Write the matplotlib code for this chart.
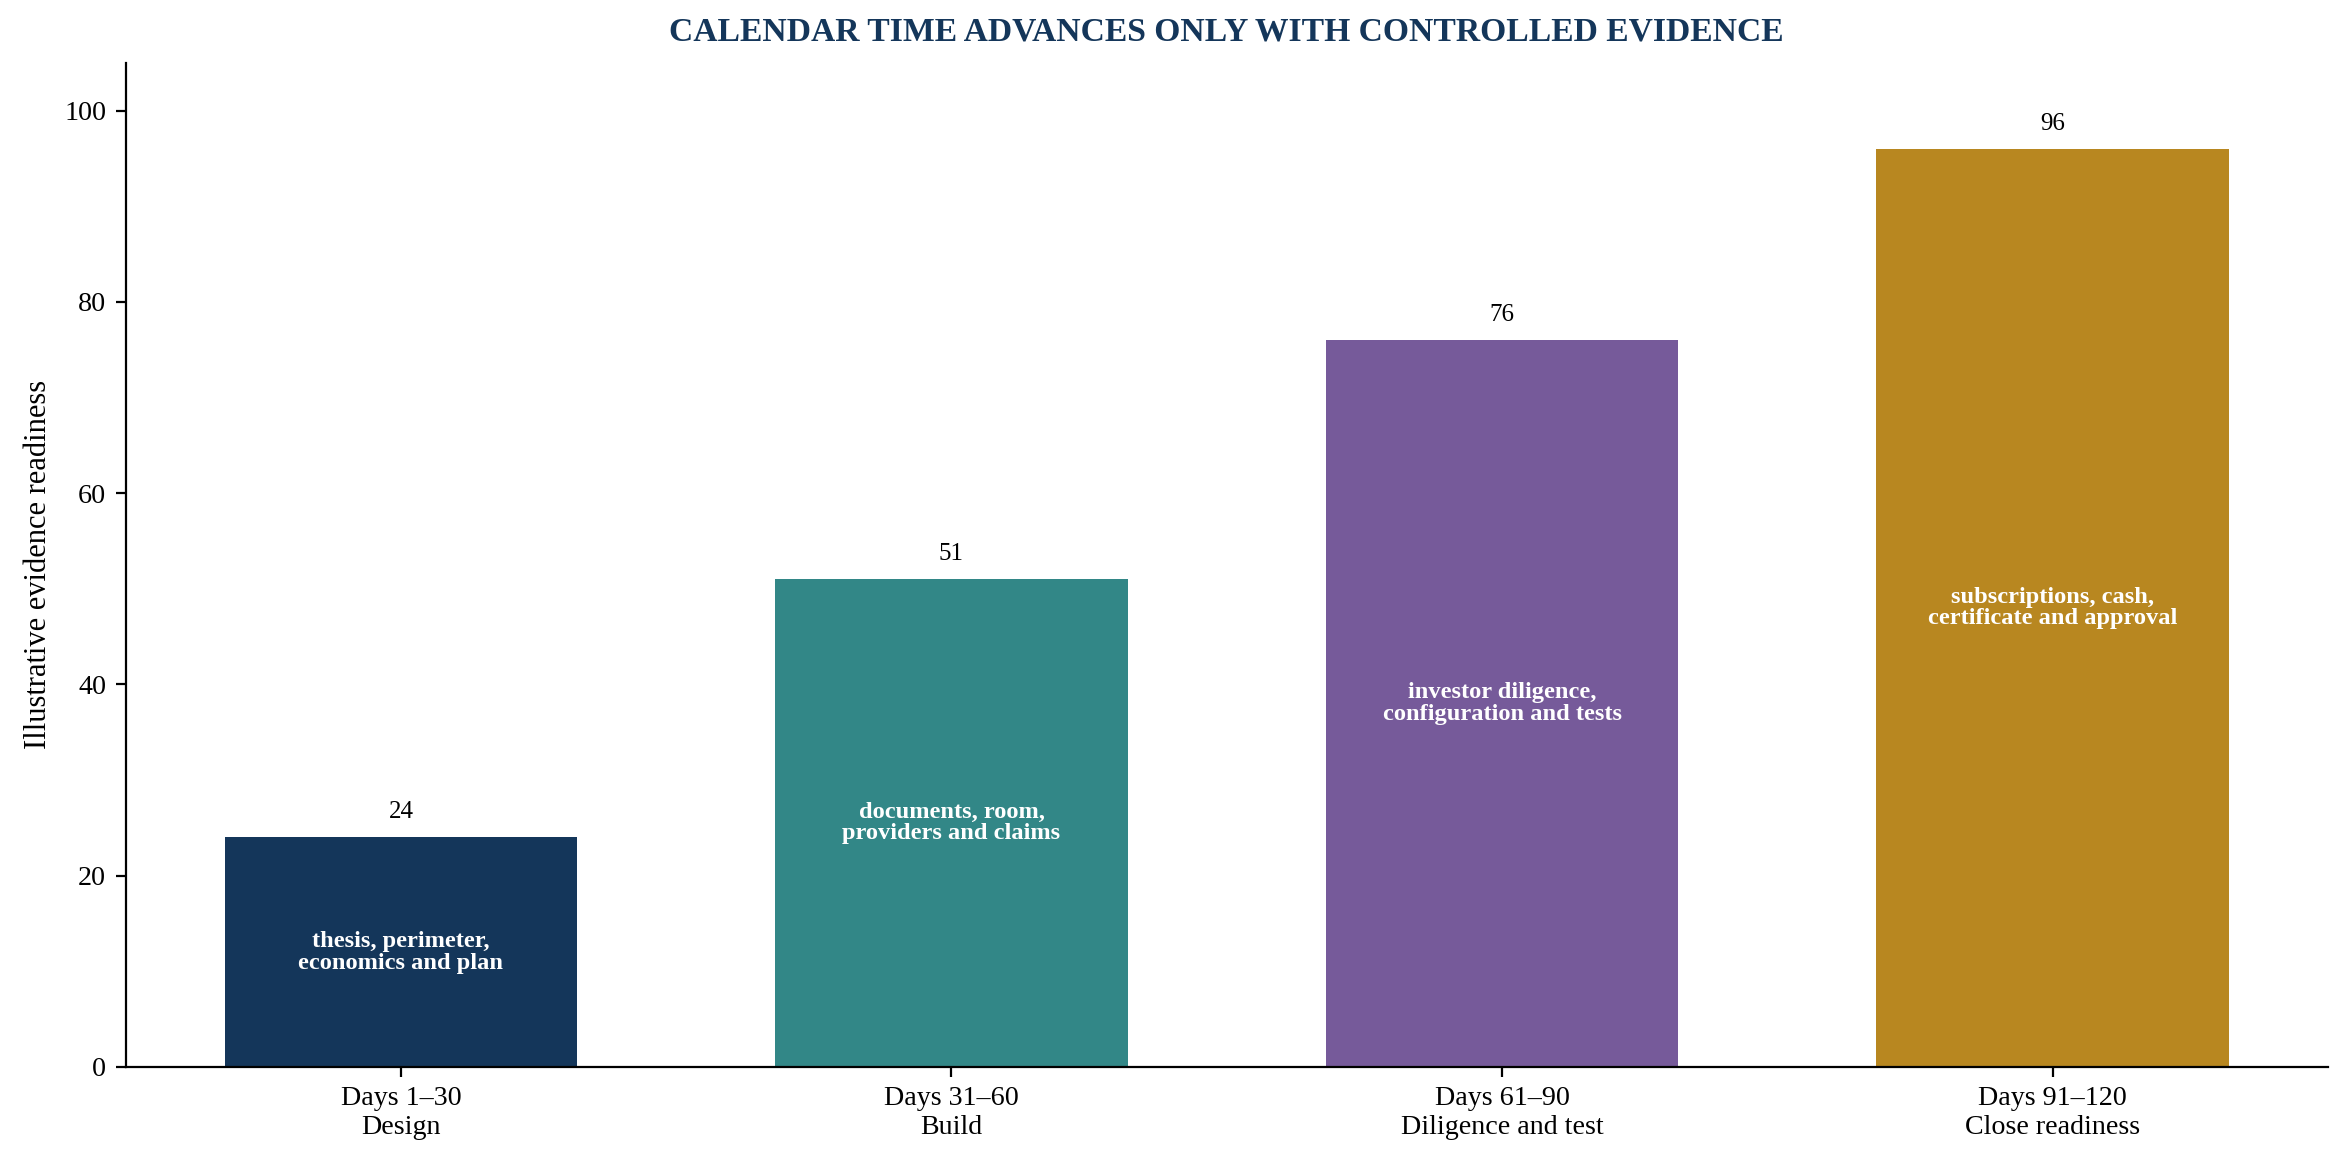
import matplotlib
matplotlib.use("Agg")
import matplotlib.pyplot as plt

phases = ["Days 1\u201330\nDesign", "Days 31\u201360\nBuild",
          "Days 61\u201390\nDiligence and test", "Days 91\u2013120\nClose readiness"]
readiness = [24, 51, 76, 96]
notes = ["thesis, perimeter,\neconomics and plan",
         "documents, room,\nproviders and claims",
         "investor diligence,\nconfiguration and tests",
         "subscriptions, cash,\ncertificate and approval"]
colors = ["#14365a", "#328787", "#765a9a", "#b88720"]

plt.rcParams['font.family'] = ['Liberation Serif', 'DejaVu Serif']

fig = plt.figure(figsize=(11.745, 5.83), dpi=200)
ax = fig.add_axes([0.0535, 0.085, 0.9375, 0.861])

x = range(len(phases))
bars = ax.bar(x, readiness, width=0.64, color=colors)

for xi, v, note in zip(x, readiness, notes):
    ax.text(xi, v + 1.5, str(v), ha='center', va='bottom', fontsize=9)
    ax.text(xi, v / 2, note, ha='center', va='center', fontsize=8.8,
            color='white', fontweight='bold', linespacing=1.05)

ax.set_xticks(list(x))
ax.set_xticklabels(phases, fontsize=10.1)
ax.tick_params(axis='y', labelsize=10.1)
ax.set_xlim(-0.5, 3.5)
ax.set_ylim(0, 105)
ax.set_ylabel("Illustrative evidence readiness", fontsize=11)
ax.set_title("CALENDAR TIME ADVANCES ONLY WITH CONTROLLED EVIDENCE",
             fontsize=12.1, fontweight='bold', color='#14365a', pad=8)
ax.spines['top'].set_visible(False)
ax.spines['right'].set_visible(False)

fig.savefig("out.png", dpi=200)
